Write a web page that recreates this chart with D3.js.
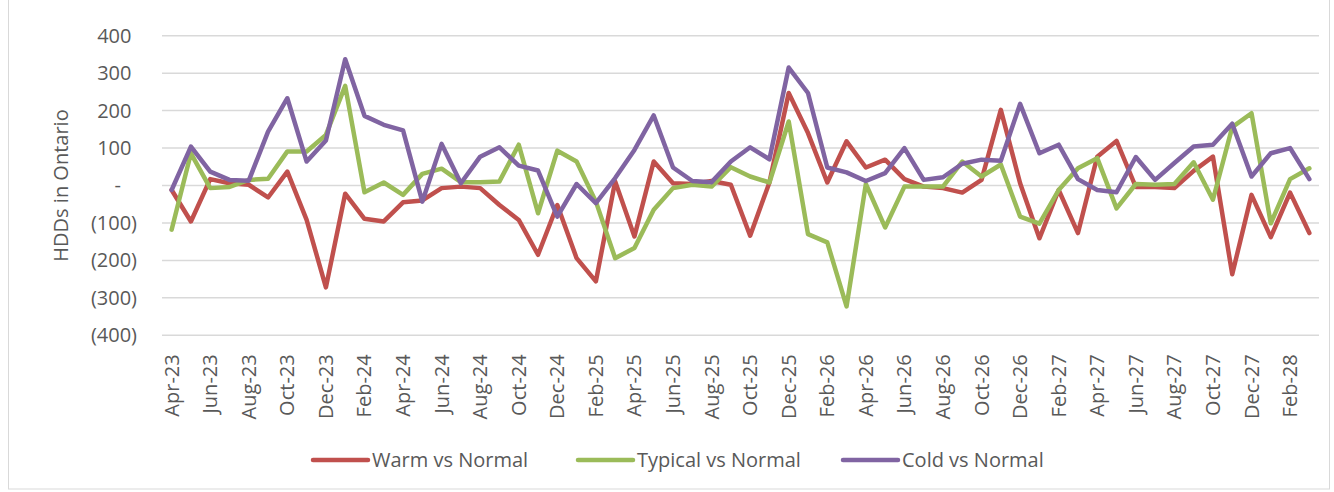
<!DOCTYPE html>
<html>
<head>
<meta charset="utf-8">
<script src="https://cdnjs.cloudflare.com/ajax/libs/d3/7.8.5/d3.min.js"></script>
<style>
  body { margin: 0; background: #fff; }
  svg text { font-family: "Open Sans", sans-serif; fill: #595959; }
</style>
</head>
<body>
<div id="chart"></div>
<script>
// months on the category axis, Apr-23 .. Mar-28
const months = [
  'Apr-23','May-23','Jun-23','Jul-23','Aug-23','Sep-23','Oct-23','Nov-23','Dec-23','Jan-24',
  'Feb-24','Mar-24','Apr-24','May-24','Jun-24','Jul-24','Aug-24','Sep-24','Oct-24','Nov-24',
  'Dec-24','Jan-25','Feb-25','Mar-25','Apr-25','May-25','Jun-25','Jul-25','Aug-25','Sep-25',
  'Oct-25','Nov-25','Dec-25','Jan-26','Feb-26','Mar-26','Apr-26','May-26','Jun-26','Jul-26',
  'Aug-26','Sep-26','Oct-26','Nov-26','Dec-26','Jan-27','Feb-27','Mar-27','Apr-27','May-27',
  'Jun-27','Jul-27','Aug-27','Sep-27','Oct-27','Nov-27','Dec-27','Jan-28','Feb-28','Mar-28'
];

const warm = [
  -12, -96, 17, 6, 2, -32, 37, -92, -272, -22, -89, -96, -45, -40, -7,
  -3, -7, -52, -92, -185, -52, -194, -256, 11, -136, 64, 6, 4, 12, 2,
  -134, 8, 247, 140, 8, 118, 48, 69, 17, -3, -7, -19, 15, 202, 6,
  -141, -12, -127, 77, 119, -4, -4, -7, 39, 77, -237, -25, -138, -19, -127
];

const typical = [
  -118, 86, -7, -4, 15, 18, 91, 91, 135, 266, -18, 8, -25, 31, 45,
  9, 9, 11, 109, -74, 93, 64, -43, -194, -167, -65, -7, 2, -3, 49,
  24, 8, 171, -130, -152, -323, 4, -112, -3, -3, -3, 64, 24, 56, -83,
  -102, -12, 46, 73, -61, 4, 2, 4, 62, -38, 156, 193, -101, 17, 46
];

const cold = [
  -12, 104, 37, 15, 13, 144, 233, 64, 120, 337, 186, 162, 147, -43, 111,
  6, 77, 102, 53, 40, -83, 4, -47, 20, 95, 187, 48, 12, 9, 64,
  102, 70, 315, 247, 48, 35, 12, 33, 100, 15, 22, 58, 69, 66, 218,
  86, 109, 17, -12, -18, 76, 15, 60, 104, 109, 165, 24, 86, 100, 17
];

const yTicks = [-400, -300, -200, -100, 0, 100, 200, 300, 400];

const seriesNames = ['Warm vs Normal', 'Typical vs Normal', 'Cold vs Normal'];
const seriesColors = ['#C0504D', '#9BBB59', '#8064A2'];

const width = 1334, height = 492;
const plot = { left: 162, right: 1319, top: 35.7, bottom: 335.3 };

const svg = d3.select('#chart').append('svg')
  .attr('width', width)
  .attr('height', height);

// outer chart frame
svg.append('rect')
  .attr('x', 8.5).attr('y', -1)
  .attr('width', 1321).attr('height', 490)
  .attr('fill', 'none')
  .attr('stroke', '#d9d9d9')
  .attr('stroke-width', 1);

const x = d3.scaleBand()
  .domain(months)
  .range([plot.left, plot.right])
  .padding(0);

const y = d3.scaleLinear()
  .domain([-400, 400])
  .range([plot.bottom, plot.top]);

const cx = d => x(d) + x.bandwidth() / 2;

// gridlines
svg.append('g')
  .selectAll('line')
  .data(yTicks)
  .enter().append('line')
  .attr('x1', plot.left).attr('x2', plot.right)
  .attr('y1', d => y(d)).attr('y2', d => y(d))
  .attr('stroke', '#d9d9d9')
  .attr('stroke-width', 1.5);

// y axis labels (accounting style)
const fmt = v => v === 0 ? '-' : (v < 0 ? '(' + Math.abs(v) + ')' : String(v));
const yAxis = svg.append('g')
  .attr('transform', `translate(${plot.left},0)`)
  .call(d3.axisLeft(y).tickValues(yTicks).tickFormat(fmt).tickSize(0).tickPadding(25));
yAxis.select('.domain').remove();
yAxis.selectAll('text')
  .style('font-size', '20px')
  .attr('fill', '#595959')
  .attr('dx', d => d > 0 ? -5.5 : (d === 0 ? -16 : 0));

// y axis title
svg.append('text')
  .attr('transform', `translate(68,${(plot.top + plot.bottom) / 2}) rotate(-90)`)
  .attr('text-anchor', 'middle')
  .style('font-size', '20px')
  .text('HDDs in Ontario');

// x axis labels, every second month, rotated
const xAxis = svg.append('g')
  .attr('transform', `translate(0,${plot.bottom})`)
  .call(d3.axisBottom(x).tickValues(months.filter((d, i) => i % 2 === 0)).tickSize(0));
xAxis.select('.domain').remove();
xAxis.selectAll('text')
  .style('font-size', '20px')
  .attr('fill', '#595959')
  .style('text-anchor', 'end')
  .attr('transform', 'rotate(-90)')
  .attr('x', -19)
  .attr('y', 0)
  .attr('dy', '0.35em');

// lines
const line = d3.line()
  .x((d, i) => cx(months[i]))
  .y(d => y(d));

[warm, typical, cold].forEach((vals, k) => {
  svg.append('path')
    .datum(vals)
    .attr('d', line)
    .attr('fill', 'none')
    .attr('stroke', seriesColors[k])
    .attr('stroke-width', 4.5)
    .attr('stroke-linejoin', 'round')
    .attr('stroke-linecap', 'round');
});

// legend
const legendX = [313, 578, 843];
const legend = svg.append('g');
seriesNames.forEach((name, k) => {
  legend.append('line')
    .attr('x1', legendX[k]).attr('x2', legendX[k] + 55)
    .attr('y1', 460).attr('y2', 460)
    .attr('stroke', seriesColors[k])
    .attr('stroke-width', 4.5)
    .attr('stroke-linecap', 'round');
  legend.append('text')
    .attr('x', legendX[k] + 59)
    .attr('y', 460)
    .attr('dy', '0.35em')
    .style('font-size', '20px')
    .text(name);
});
</script>
</body>
</html>
